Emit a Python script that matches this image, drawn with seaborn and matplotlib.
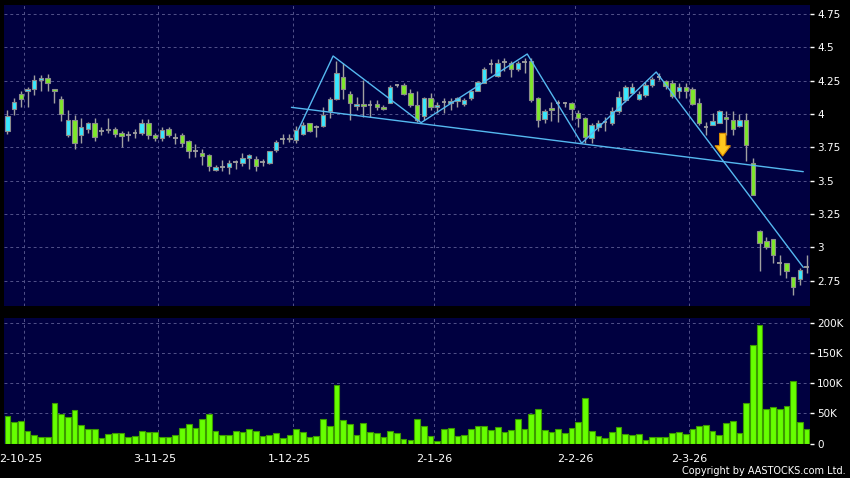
import numpy as np
import pandas as pd
import matplotlib
matplotlib.use("Agg")
import matplotlib.pyplot as plt
import seaborn as sns

# daily candles
opens = [3.87, 4.04, 4.15, 4.17, 4.19, 4.255, 4.27, 4.19, 4.11, 3.84,
         3.955, 3.84, 3.89, 3.93, 3.87, 3.88, 3.89, 3.86, 3.84, 3.86,
         3.86, 3.93, 3.84, 3.82, 3.89, 3.82, 3.84, 3.80, 3.72, 3.71,
         3.69, 3.58, 3.60, 3.60, 3.64, 3.63, 3.67, 3.66, 3.64, 3.63,
         3.73, 3.81, 3.81, 3.805, 3.85, 3.93, 3.90, 3.91, 4.02, 4.11,
         4.28, 4.15, 4.06, 4.078, 4.07, 4.078, 4.055, 4.085, 4.215, 4.215,
         4.155, 4.07, 3.985, 4.12, 4.055, 4.09, 4.085, 4.10, 4.075, 4.12,
         4.175, 4.235, 4.375, 4.285, 4.39, 4.385, 4.34, 4.39, 4.40, 4.12,
         3.96, 4.045, 4.08, 4.08, 4.08, 4.01, 3.97, 3.82, 3.905, 3.94,
         3.93, 4.02, 4.105, 4.16, 4.11, 4.14, 4.22, 4.28, 4.25, 4.23,
         4.17, 4.20, 4.19, 4.08, 3.90, 3.92, 3.935, 3.98, 3.955, 3.91,
         3.955, 3.63, 3.12, 3.05, 3.06, 2.885, 2.88, 2.775, 2.76, 2.85]
closes = [3.985, 4.09, 4.115, 4.19, 4.255, 4.27, 4.235, 4.17, 4.00, 3.955,
          3.785, 3.905, 3.93, 3.83, 3.87, 3.89, 3.85, 3.835, 3.84, 3.86,
          3.93, 3.84, 3.82, 3.88, 3.84, 3.82, 3.78, 3.72, 3.72, 3.685,
          3.61, 3.605, 3.60, 3.63, 3.64, 3.67, 3.69, 3.61, 3.64, 3.72,
          3.79, 3.81, 3.82, 3.88, 3.92, 3.87, 3.90, 3.995, 4.11, 4.31,
          4.185, 4.08, 4.078, 4.06, 4.07, 4.05, 4.04, 4.20, 4.215, 4.15,
          4.07, 3.955, 4.12, 4.05, 4.07, 4.09, 4.10, 4.12, 4.105, 4.17,
          4.24, 4.34, 4.375, 4.38, 4.39, 4.34, 4.385, 4.39, 4.105, 3.955,
          4.025, 4.03, 4.08, 4.08, 4.04, 3.97, 3.825, 3.92, 3.935, 3.94,
          4.02, 4.13, 4.20, 4.205, 4.15, 4.22, 4.26, 4.28, 4.21, 4.135,
          4.20, 4.17, 4.075, 3.93, 3.90, 3.95, 4.02, 3.96, 3.89, 3.955,
          3.77, 3.39, 3.03, 3.00, 2.94, 2.885, 2.825, 2.705, 2.83, 2.85]
highs = [4.03, 4.12, 4.175, 4.20, 4.29, 4.29, 4.30, 4.19, 4.135, 4.03,
         3.99, 3.97, 3.94, 3.97, 3.90, 3.97, 3.905, 3.87, 3.87, 3.89,
         3.96, 3.96, 3.855, 3.905, 3.905, 3.855, 3.86, 3.805, 3.775, 3.74,
         3.70, 3.615, 3.655, 3.655, 3.655, 3.71, 3.70, 3.685, 3.66, 3.725,
         3.805, 3.85, 3.85, 3.91, 3.94, 3.93, 3.92, 4.055, 4.13, 4.40,
         4.385, 4.17, 4.13, 4.255, 4.105, 4.105, 4.07, 4.22, 4.225, 4.235,
         4.19, 4.17, 4.13, 4.155, 4.09, 4.12, 4.12, 4.13, 4.12, 4.18,
         4.25, 4.355, 4.415, 4.415, 4.42, 4.40, 4.40, 4.42, 4.42, 4.13,
         4.04, 4.09, 4.105, 4.09, 4.09, 4.03, 3.98, 3.93, 3.955, 3.98,
         4.055, 4.17, 4.22, 4.23, 4.17, 4.24, 4.28, 4.305, 4.255, 4.255,
         4.23, 4.23, 4.205, 4.12, 3.94, 4.005, 4.03, 4.02, 4.02, 4.00,
         4.005, 3.67, 3.13, 3.08, 3.06, 2.94, 2.885, 2.78, 2.845, 2.94]
lows = [3.85, 3.99, 4.055, 4.055, 4.14, 4.175, 4.175, 4.085, 3.95, 3.83,
        3.74, 3.78, 3.855, 3.80, 3.84, 3.86, 3.83, 3.75, 3.80, 3.82,
        3.84, 3.81, 3.80, 3.80, 3.825, 3.775, 3.755, 3.67, 3.68, 3.62,
        3.575, 3.575, 3.575, 3.55, 3.59, 3.61, 3.59, 3.575, 3.61, 3.625,
        3.715, 3.775, 3.79, 3.78, 3.84, 3.865, 3.83, 3.905, 3.97, 4.105,
        4.11, 3.955, 4.03, 3.98, 3.98, 4.03, 4.03, 4.08, 4.20, 4.14,
        4.055, 3.94, 3.955, 4.03, 4.005, 4.005, 4.03, 4.055, 4.06, 4.105,
        4.17, 4.23, 4.305, 4.28, 4.32, 4.28, 4.32, 4.305, 4.09, 3.90,
        3.93, 3.945, 3.94, 4.05, 3.955, 3.905, 3.78, 3.785, 3.87, 3.87,
        3.92, 4.005, 4.09, 4.155, 4.105, 4.13, 4.205, 4.255, 4.19, 4.12,
        4.12, 4.12, 4.07, 3.915, 3.84, 3.915, 3.93, 3.84, 3.84, 3.905,
        3.65, 3.39, 2.825, 2.99, 2.885, 2.79, 2.77, 2.64, 2.72, 2.805]
# volume in thousands of shares
volumes = [45.6, 35.6, 37.8, 21.1, 13.9, 11.1, 11.1, 66.7, 48.9, 44.4,
           55.0, 31.1, 25.0, 25.0, 9.4, 16.7, 17.2, 17.2, 11.7, 13.3,
           21.1, 19.4, 19.4, 11.7, 11.1, 15.0, 25.6, 32.2, 25.6, 40.6,
           48.9, 21.7, 14.4, 14.4, 20.6, 19.4, 23.9, 20.6, 12.8, 15.0,
           18.3, 9.4, 13.9, 24.4, 20.0, 11.1, 12.8, 40.6, 29.4, 96.7,
           39.4, 32.8, 13.9, 35.0, 19.4, 17.2, 11.1, 20.6, 18.3, 8.3,
           5.6, 41.1, 28.9, 12.2, 4.4, 23.9, 26.7, 12.8, 13.9, 23.9,
           29.4, 28.9, 23.3, 27.2, 19.4, 22.8, 40.6, 24.4, 49.4, 57.2,
           22.2, 18.9, 23.9, 17.8, 26.7, 35.6, 75.6, 21.7, 12.8, 9.4,
           19.4, 28.3, 16.7, 15.0, 16.7, 5.6, 10.6, 10.6, 11.7, 18.3,
           20.0, 16.1, 25.0, 30.0, 31.7, 20.6, 13.9, 34.4, 37.2, 18.3,
           66.7, 163.9, 197.0, 56.7, 60.6, 56.7, 62.2, 103.9, 36.1, 24.4]

date_labels = ["2-10-25", "3-11-25", "1-12-25", "2-1-26", "2-2-26", "2-3-26"]
date_tick_pos = [2, 22, 42, 63.5, 84.5, 101.5]
date_grid_pos = [2.5, 22.5, 42.5, 63.5, 84.5, 101.5]
price_ticks = [2.75, 3, 3.25, 3.5, 3.75, 4, 4.25, 4.5, 4.75]
price_labels = ["2.75", "3", "3.25", "3.5", "3.75", "4", "4.25", "4.5", "4.75"]
vol_ticks = [0, 50, 100, 150, 200]
vol_labels = ["0", "50K", "100K", "150K", "200K"]

# drawn pattern lines (bar position, price)
neck_x = [42.3, 118.5]
neck_y = [4.05, 3.5675]
zig_x = [43.3, 48.5, 61.6, 77.4, 85.5, 96.6, 118.5]
zig_y = [3.88, 4.435, 3.935, 4.45, 3.78, 4.315, 2.85]
arrow_x, arrow_top, arrow_tip = 106.5, 3.855, 3.685

bg = "#000040"
grid_c = "#52528a"
sns.set_theme(style="dark", rc={"axes.facecolor": bg, "figure.facecolor": "black",
                                "axes.edgecolor": bg, "text.color": "white",
                                "xtick.color": "white", "ytick.color": "white"})
plt.rcParams["font.family"] = ["DejaVu Sans"]

o, h, l, c = (np.array(a) for a in (opens, highs, lows, closes))
idx = np.arange(len(o))
up, down, flat = c > o, c < o, c == o

W, H = 850, 478
fig = plt.figure(figsize=(8.5, 4.78), dpi=100, facecolor="black")
ax = fig.add_axes([4 / W, 1 - 306 / H, 806 / W, 301 / H])
ax2 = fig.add_axes([4 / W, 1 - 444 / H, 806 / W, 126 / H])

# price panel
for y in price_ticks:
    ax.axhline(y, color=grid_c, lw=0.7, ls=(0, (3, 3)), zorder=0)
for x in date_grid_pos:
    ax.axvline(x, color=grid_c, lw=0.7, ls=(0, (3, 3)), zorder=0)
ax.vlines(idx, l, h, color="#a0a0a0", lw=1, zorder=2)
ax.bar(idx[up], (c - o)[up], bottom=o[up], width=0.66, color="#38e8ff",
       edgecolor="#8c8c8c", linewidth=0.8, zorder=3)
ax.bar(idx[down], (o - c)[down], bottom=c[down], width=0.66, color="#7ee82a",
       edgecolor="#8c8c8c", linewidth=0.8, zorder=3)
ax.hlines(c[flat], idx[flat] - 0.34, idx[flat] + 0.34, color="#a0a0a0", lw=1.3, zorder=3)
ax.plot(neck_x, neck_y, color="#55b8f0", lw=1, zorder=4)
ax.plot(zig_x, zig_y, color="#55b8f0", lw=1, zorder=4)
ax.arrow(arrow_x, arrow_top, 0, arrow_tip - arrow_top, width=0.94, head_width=2.3,
         head_length=0.077, length_includes_head=True, fc="#ffc81e", ec="#d98a00",
         lw=0.8, zorder=5)
ax.set_xlim(-0.5, len(o) - 0.5)
ax.set_ylim(2.56, 4.8175)
ax.set_xticks([])
ax.yaxis.tick_right()
ax.set_yticks(price_ticks, price_labels)
ax.tick_params(axis="y", length=3, width=1, color="white", pad=2, labelsize=7.5,
               labelcolor="white")

# volume panel
for y in vol_ticks[1:]:
    ax2.axhline(y, color=grid_c, lw=0.7, ls=(0, (3, 3)), zorder=0)
for x in date_grid_pos:
    ax2.axvline(x, color=grid_c, lw=0.7, ls=(0, (3, 3)), zorder=0)
vol_df = pd.DataFrame({"day": idx, "vol": volumes})
sns.barplot(data=vol_df, x="day", y="vol", native_scale=True, color="#66ff00",
            edgecolor="#3c9a00", linewidth=0.8, width=0.85, saturation=1,
            errorbar=None, ax=ax2, zorder=2)
ax2.set_xlim(-0.5, len(o) - 0.5)
ax2.set_ylim(-0.5, 208)
ax2.set_xlabel("")
ax2.set_ylabel("")
ax2.yaxis.tick_right()
ax2.set_yticks(vol_ticks, vol_labels)
ax2.set_xticks(date_tick_pos, date_labels)
ax2.tick_params(axis="y", length=3, width=1, color="white", pad=2, labelsize=7.5,
                labelcolor="white")
ax2.tick_params(axis="x", length=4, width=1, color="#cccccc", pad=3, labelsize=8,
                labelcolor="white")
for a in (ax, ax2):
    for s in a.spines.values():
        s.set_visible(False)
    a.grid(False)

fig.text(846 / W, 1 - 471 / H, "Copyright by AASTOCKS.com Ltd.", ha="right",
         va="center", fontsize=7, color="white")

fig.savefig("out.png", dpi=100, facecolor="black")
